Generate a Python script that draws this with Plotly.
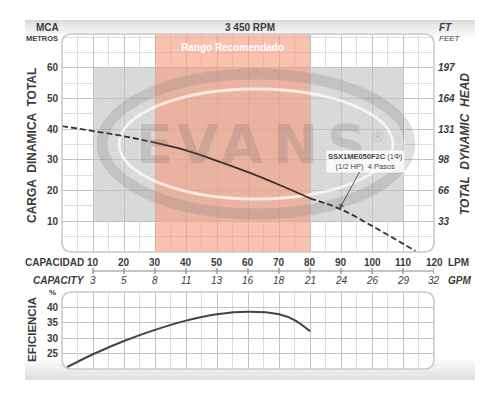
import plotly.graph_objects as go

# ---------------- data ----------------
lpm_ticks = [10, 20, 30, 40, 50, 60, 70, 80, 90, 100, 110, 120]
gpm_labels = ["3", "5", "8", "11", "13", "16", "18", "21", "24", "26", "29", "32"]
head_ticks_m = [10, 20, 30, 40, 50, 60]
head_ticks_ft = ["33", "66", "98", "131", "164", "197"]
eff_ticks = [25, 30, 35, 40]

flow_lpm = [0, 10, 20, 30, 40, 50, 60, 70, 80, 90, 100, 110, 114]
head_m = [41.0, 39.4, 37.7, 35.6, 33.1, 29.7, 26.0, 21.9, 17.5, 13.9, 8.5, 2.7, 0.3]

eff_flow_lpm = [1.6, 10, 20, 30, 40, 50, 60, 70, 75, 80]
eff_pct = [20.6, 24.8, 29.1, 32.7, 35.7, 37.8, 38.6, 37.8, 35.9, 32.3]

rec_range = [30, 80]          # recommended range (LPM)
gray_box_x = [10, 110]
gray_box_y = [10, 60]

# ---------------- helpers ----------------
W, H = 500, 399
OFF = 8   # page body margin offset
def px(x): return (x - OFF) / W
def py(y): return 1 - (y - OFF) / H
def dx(x): return (x - 62) / 3.1      # pixel -> LPM (for watermark only)
def dy(y): return (252 - y) / 3.07    # pixel -> m (for watermark only)

FONT = "Liberation Sans, Arial, sans-serif"
TXT = "#3c3c3c"

fig = go.Figure()

# head curve: dashed / solid / dashed
segs = [(0, 4, "6px,3px"), (3, 9, "solid"), (8, len(flow_lpm), "6px,3px")]
for a, b, d in segs:
    fig.add_trace(go.Scatter(x=flow_lpm[a:b], y=head_m[a:b], mode="lines",
                             line=dict(color="#3a3230", width=1.8, dash=d, shape="spline"),
                             xaxis="x", yaxis="y", hoverinfo="skip", showlegend=False))

fig.add_trace(go.Scatter(x=eff_flow_lpm, y=eff_pct, mode="lines",
                         line=dict(color="#444", width=2, shape="spline"),
                         xaxis="x3", yaxis="y3", hoverinfo="skip", showlegend=False))

shapes = []
# card background bands
hdr_cols = ["#d8d8d8", "#dedede", "#e4e4e4", "#eaeaea", "#efefef", "#f3f3f3", "#f6f6f6"]
for i, c in enumerate(hdr_cols):
    y0 = 20 + i * 2.2
    shapes.append(dict(type="rect", xref="paper", yref="paper", x0=px(25), x1=px(475),
                       y0=py(y0 + 2.2), y1=py(y0), fillcolor=c, line_width=0, layer="below"))
bot_cols = ["#f8f8f8", "#f2f2f2", "#ececec", "#e6e6e6", "#e0e0e0"]
for i, c in enumerate(bot_cols):
    y0 = 360 + i * 4
    shapes.append(dict(type="rect", xref="paper", yref="paper", x0=px(25), x1=px(475),
                       y0=py(y0 + 4), y1=py(y0), fillcolor=c, line_width=0, layer="below"))
# white plot backgrounds
for (t, b) in [(34, 252), (292, 369)]:
    shapes.append(dict(type="rect", xref="paper", yref="paper", x0=px(62), x1=px(434),
                       y0=py(b), y1=py(t), fillcolor="white", line_width=0, layer="below"))

# gray box
shapes.append(dict(type="rect", xref="x", yref="y", x0=gray_box_x[0], x1=gray_box_x[1],
                   y0=gray_box_y[0], y1=gray_box_y[1], fillcolor="#d9d9d9", line_width=0, layer="below"))
# recommended range
shapes.append(dict(type="rect", xref="x", yref="y", x0=rec_range[0], x1=rec_range[1],
                   y0=0, y1=71, fillcolor="#f39a78", opacity=0.6, line_width=0, layer="between"))
# logo ellipses (watermark)
shapes.append(dict(type="circle", xref="x", yref="y", x0=dx(102), x1=dx(410),
                   y0=dy(214), y1=dy(74), line=dict(color="rgba(120,120,120,0.24)", width=11),
                   layer="between"))
shapes.append(dict(type="circle", xref="x", yref="y", x0=dx(119), x1=dx(393),
                   y0=dy(199), y1=dy(89), line=dict(color="rgba(255,255,255,0.7)", width=3),
                   layer="between"))

# rounded corner masks + borders
def rounded(l, t, r, b, rad=10):
    rx, ry = rad / W, rad / H
    L, T, R, B = px(l), py(t), px(r), py(b)
    return (f"M {L+rx},{T} L {R-rx},{T} Q {R},{T} {R},{T-ry} L {R},{B+ry} Q {R},{B} {R-rx},{B} "
            f"L {L+rx},{B} Q {L},{B} {L},{B+ry} L {L},{T-ry} Q {L},{T} {L+rx},{T} Z")

def corner_masks(l, t, r, b, rad=10, cols=("white",) * 4):
    rx, ry = rad / W, rad / H
    L, T, R, B = px(l), py(t), px(r), py(b)
    out = []
    out.append(f"M {L},{T} L {L+rx},{T} Q {L},{T} {L},{T-ry} Z")
    out.append(f"M {R},{T} L {R-rx},{T} Q {R},{T} {R},{T-ry} Z")
    out.append(f"M {R},{B} L {R},{B+ry} Q {R},{B} {R-rx},{B} Z")
    out.append(f"M {L},{B} L {L+rx},{B} Q {L},{B} {L},{B+ry} Z")
    return [dict(type="path", xref="paper", yref="paper", path=p, fillcolor=c,
                 line_width=0, layer="above") for p, c in zip(out, cols)]

for (t, b, cols) in [(34, 252, ("#f6f6f6", "#f6f6f6", "white", "white")),
                     (292, 369, ("white", "white", "#f0f0f0", "#f0f0f0"))]:
    shapes += corner_masks(62, t, 434, b, cols=cols)
    shapes.append(dict(type="path", xref="paper", yref="paper", path=rounded(62, t, 434, b),
                       line=dict(color="#c9c9c9", width=1.5), layer="above"))

# LPM axis line with ticks
shapes.append(dict(type="line", xref="x", yref="paper", x0=lpm_ticks[0], x1=lpm_ticks[-1],
                   y0=py(271), y1=py(271), line=dict(color="#888", width=1.2)))
for v in lpm_ticks:
    shapes.append(dict(type="line", xref="x", yref="paper", x0=v, x1=v,
                       y0=py(274), y1=py(268), line=dict(color="#888", width=1.2)))

ann = []
def txt(x, y, s, size=10, color=TXT, family=FONT, xanchor="center", **kw):
    d = dict(x=px(x), y=py(y), xref="paper", yref="paper", text=s, showarrow=False,
             xanchor=xanchor, yanchor="middle",
             font=dict(size=size, color=color, family=family))
    d.update(kw)
    ann.append(d)

# logo letters (watermark)
logo_x = [154, 198, 242, 295, 346]
for ch, lx in zip("EVANS", logo_x):
    txt(lx, 145, f"<b>{ch}</b>", size=54, color="rgba(110,110,110,0.22)",
        family="DejaVu Sans, sans-serif")
txt(378, 137, "®", size=14, color="rgba(110,110,110,0.3)")

# header
txt(47, 27, "<b>MCA</b>", 10)
txt(42, 38, "<b>METROS</b>", 7.5)
txt(250, 27, "<b>3 450 RPM</b>", 10)
txt(437, 27, "<i><b>FT</b></i>", 10, xanchor="left")
txt(437, 38, "<i>FEET</i>", 8, xanchor="left")
txt(232, 47, "<b>Rango Recomendado</b>", 10, color="white")

# axis titles
txt(32, 146, "<b>CARGA  DINAMICA  TOTAL</b>", 12, textangle=-90)
txt(465, 144, "<i><b>TOTAL  DYNAMIC  HEAD</b></i>", 12, textangle=-90)
txt(32, 330, "<b>EFICIENCIA</b>", 11.5, textangle=-90)
txt(52, 292, "<b>%</b>", 8)

# capacity axis labels
txt(54, 262, "<b>CAPACIDAD</b>", 10)
txt(59, 280, "<i><b>CAPACITY</b></i>", 10)
txt(446, 262, "<b>LPM</b>", 10, xanchor="left")
txt(446, 280, "<i><b>GPM</b></i>", 10, xanchor="left")
for v, g in zip(lpm_ticks, gpm_labels):
    ann.append(dict(x=v, y=py(262), xref="x", yref="paper", text=f"<b>{v}</b>", showarrow=False,
                    xanchor="center", yanchor="middle",
                    font=dict(size=10, color=TXT, family=FONT)))
    ann.append(dict(x=v, y=py(280), xref="x", yref="paper", text=f"<i>{g}</i>", showarrow=False,
                    xanchor="center", yanchor="middle",
                    font=dict(size=10, color=TXT, family=FONT)))

# model annotation
ann.append(dict(x=89.5, y=14.0, xref="x", yref="y",
                text="<b>SSX1ME050F2C</b> (1Φ)<br>(1/2 HP)  4 Pasos",
                showarrow=True, ax=26, ay=-48, arrowhead=2, arrowsize=1, arrowwidth=1,
                arrowcolor="#555", bgcolor="rgba(255,255,255,0.85)", borderpad=1,
                font=dict(size=7.5, color="#444", family=FONT)))

grid_major = "#c2c2c2"
grid_minor = "#dddddd"
xcommon = dict(range=[0, 120], showticklabels=False, zeroline=False, showline=False,
               dtick=10, tick0=0, gridcolor=grid_major, gridwidth=1, ticks="",
               minor=dict(dtick=5, tick0=0, gridcolor=grid_minor, showgrid=True),
               domain=[px(62), px(434)], fixedrange=True, automargin=False)

fig.update_layout(
    width=W, height=H, margin=dict(l=0, r=0, t=0, b=0, autoexpand=False),
    paper_bgcolor="white", plot_bgcolor="rgba(0,0,0,0)", showlegend=False,
    font=dict(family=FONT, color=TXT),
    xaxis=dict(**xcommon, anchor="y"),
    yaxis=dict(range=[0, 71], domain=[py(252), py(34)], anchor="x", zeroline=False,
               tickvals=head_ticks_m, ticktext=[f"<b>{v}</b>" for v in head_ticks_m],
               tickfont=dict(size=10, color=TXT), gridcolor=grid_major,
               minor=dict(dtick=5, tick0=0, gridcolor=grid_minor, showgrid=True),
               ticks="", ticklabelstandoff=3, automargin=False),
    yaxis2=dict(range=[0, 71], overlaying="y", side="right", anchor="x", showgrid=False,
                zeroline=False, tickvals=head_ticks_m,
                ticktext=[f"<i><b>{t}</b></i>" for t in head_ticks_ft],
                tickfont=dict(size=10, color=TXT), ticks="", ticklabelstandoff=3,
                automargin=False),
    xaxis3=dict(**xcommon, anchor="y3"),
    yaxis3=dict(range=[20, 45], domain=[py(369), py(292)], anchor="x3", zeroline=False,
                tickvals=eff_ticks, ticktext=[f"<b>{v}</b>" for v in eff_ticks],
                tickfont=dict(size=10, color=TXT), gridcolor=grid_major,
                ticks="", ticklabelstandoff=3, automargin=False),
    shapes=shapes, annotations=ann,
)

# invisible helper so the right axis renders (same head data)
fig.add_trace(go.Scatter(x=flow_lpm, y=head_m, mode="lines", line=dict(width=0),
                         opacity=0, xaxis="x", yaxis="y2", hoverinfo="skip", showlegend=False))

fig.write_html("out.html")
